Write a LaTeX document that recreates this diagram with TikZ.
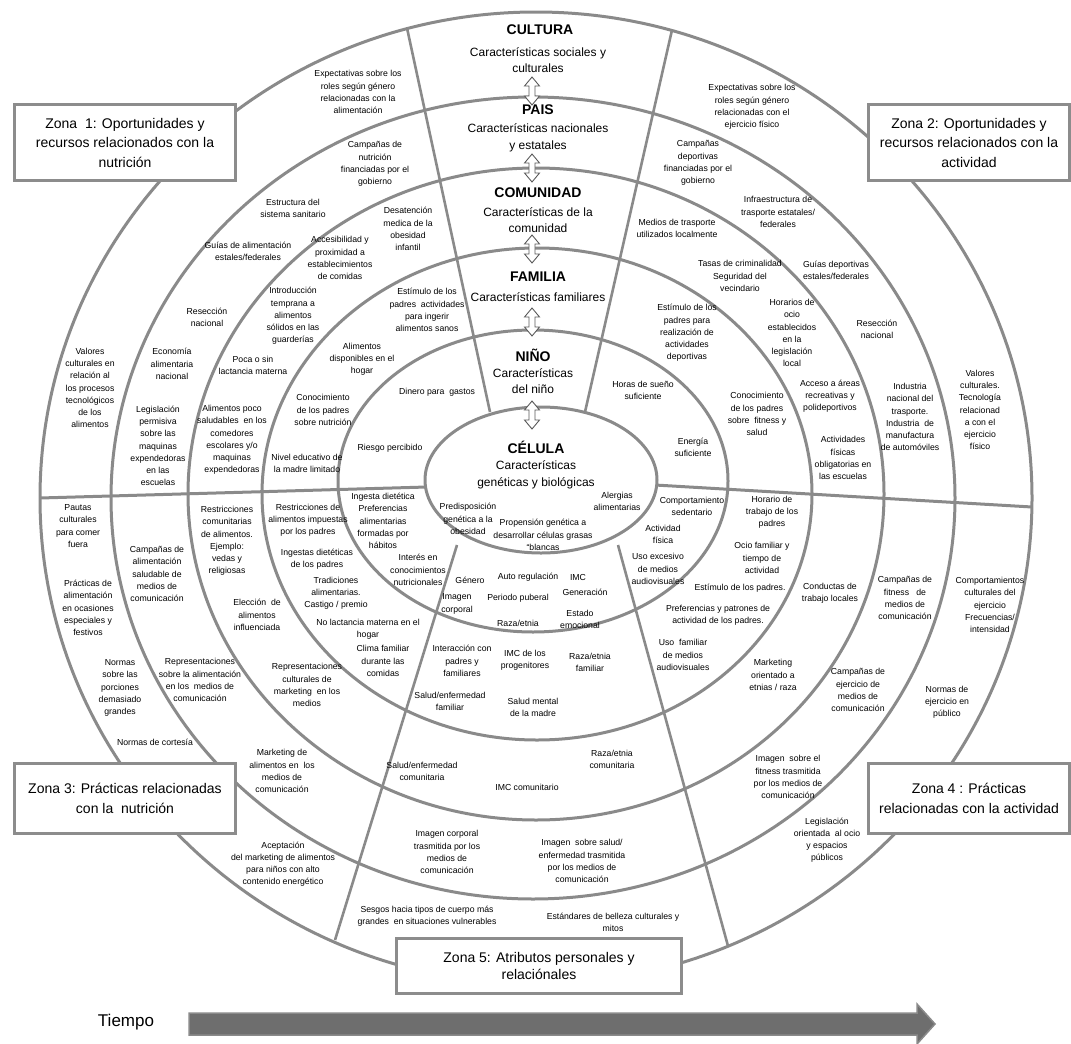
\documentclass[tikz,border=0pt]{standalone}
\usepackage{fontspec}
\setmainfont{Liberation Sans}
\usetikzlibrary{calc}
\definecolor{ringgray}{HTML}{8A8A8A}
\definecolor{boxgray}{HTML}{8C8C8C}
\definecolor{bargray}{HTML}{6E6E6E}
\definecolor{arrowgray}{HTML}{5A5A5A}
\newcommand{\itemfnt}{\fontsize{8.7}{12.2}\selectfont}
\newcommand{\subfnt}{\fontsize{12}{16.5}\selectfont}
\newcommand{\zonefnt}{\fontsize{14}{19.5}\selectfont}
\newcommand{\headfnt}{\bfseries\fontsize{14}{16}\selectfont}

\begin{document}
\begin{tikzpicture}[x=1pt, y=-1pt,
        ringline/.style={draw=ringgray, line width=3pt},
        spokeline/.style={draw=ringgray, line width=2.6pt},
        item/.style={font=\itemfnt, align=center, inner sep=0pt},
        head/.style={font=\headfnt, inner sep=0pt},
        sub/.style={font=\subfnt, align=center, inner sep=0pt},
        zonebox/.style={draw=boxgray, line width=3pt, fill=white, font=\zonefnt, align=center, inner sep=0pt},
        dblarr/.pic={\draw[draw=arrowgray, fill=white, line width=0.9pt] (0,-14) -- (7.5,-5) -- (3,-5) -- (3,5) -- (7.5,5) -- (0,14) -- (-7.5,5) -- (-3,5) -- (-3,-5) -- (-7.5,-5) -- cycle;}
    ]
    \useasboundingbox (0,0) rectangle (1071,1044);

    % rings
    \draw[ringline] (536,498) ellipse [x radius=496pt, y radius=486pt];
    \draw[ringline] (533,498) ellipse [x radius=422pt, y radius=401pt];
    \draw[ringline] (536,494) ellipse [x radius=348pt, y radius=326pt];
    \draw[ringline] (537,494) ellipse [x radius=275pt, y radius=246pt];
    \draw[ringline] (533,481) ellipse [x radius=195pt, y radius=151pt];

    % zone dividers
    \draw[spokeline] (490,412) -- (407,28);
    \draw[spokeline] (585,412) -- (672,30);
    \draw[spokeline] (457,545) -- (335,940);
    \draw[spokeline] (618,545) -- (728,946);
    \draw[ringline] (427,487) -- (40,498);
    \draw[ringline] (655,485) -- (1032,507);

    % cell
    \draw[ringline, fill=white] (541,480) ellipse [x radius=116pt, y radius=73pt];

    % levels
    \node[head] (cultura) at (540,30) {CULTURA};
    \node[sub] (culturas) at (538,60) {Características sociales y\\culturales};
    \node[head] (pais) at (538,110) {PAIS};
    \node[sub] (paiss) at (538,138) {Características nacionales\\y estatales};
    \node[head] (comunidad) at (538,193) {COMUNIDAD};
    \node[sub] (comunidads) at (538,220) {Características de la\\comunidad};
    \node[head] (familia) at (538,277) {FAMILIA};
    \node[sub] (familias) at (538,297) {Características familiares};
    \node[head] (nino) at (533,355) {NIÑO};
    \node[sub] (ninos) at (533,381) {Características\\del niño};
    \node[head] (celula) at (536,447) {CÉLULA};
    \node[sub] (celulas) at (536,475) {Características\\genéticas y biológicas};

    \pic at (532,91) {dblarr};
    \pic at (532,168) {dblarr};
    \pic at (532,249) {dblarr};
    \pic at (532,322) {dblarr};
    \pic at (532,415) {dblarr};

    % cultura ring
    \node[item] (c1) at (358,92) {Expectativas sobre los\\roles según género\\relacionadas con la\\alimentación};
    \node[item] (c2) at (90,388) {Valores\\culturales en\\relación al\\los procesos\\tecnológicos\\de los\\alimentos};
    \node[item] (c3) at (752,107) {Expectativas sobre los\\roles según género\\relacionadas con el\\ejercicio físico};
    \node[item] (c4) at (980,410) {Valores\\culturales.\\Tecnología\\relacionad\\a con el\\ejercicio\\físico};
    \node[item] (c5) at (78,526) {Pautas\\culturales\\para comer\\fuera};
    \node[item] (c6) at (88,608) {Prácticas de\\alimentación\\en ocasiones\\especiales y\\festivos};
    \node[item] (c7) at (120,688) {Normas\\sobre las\\porciones\\demasiado\\grandes};
    \node[item] (c8) at (155,742) {Normas de cortesía};
    \node[item] (c9) at (283,864) {Aceptación\\del marketing de alimentos\\para niños con alto\\contenido energético};
    \node[item] (c10) at (427,916) {Sesgos hacia tipos de cuerpo más\\grandes\ \ en situaciones vulnerables};
    \node[item] (c11) at (613,922) {Estándares de belleza culturales y\\mitos};
    \node[item] (c12) at (990,605) {Comportamientos\\culturales del\\ejercicio\\Frecuencias/\\intensidad};
    \node[item] (c13) at (947,702) {Normas de\\ejercicio en\\público};

    % pais ring
    \node[item] (p1) at (375,164) {Campañas de\\nutrición\\financiadas por el\\gobierno};
    \node[item] (p2) at (293,208) {Estructura del\\sistema sanitario};
    \node[item] (p3) at (248,251) {Guías de alimentación\\estales/federales};
    \node[item] (p4) at (207,317) {Resección\\nacional};
    \node[item] (p5) at (172,364) {Economía\\alimentaria\\nacional};
    \node[item] (p6) at (158,446) {Legislación\\permisiva\\sobre las\\maquinas\\expendedoras\\en las\\escuelas};
    \node[item] (p7) at (698,163) {Campañas\\deportivas\\financiadas por el\\gobierno};
    \node[item] (p8) at (778,212) {Infraestructura de\\trasporte estatales/\\federales};
    \node[item] (p9) at (836,270) {Guías deportivas\\estales/federales};
    \node[item] (p10) at (877,329) {Resección\\nacional};
    \node[item] (p11) at (910,417) {Industria\\nacional del\\trasporte.\\Industria\ \ de\\manufactura\\de automóviles};
    \node[item] (p12) at (157,574) {Campañas de\\alimentación\\saludable de\\medios de\\comunicación};
    \node[item] (p13) at (200,680) {Representaciones\\sobre la alimentación\\en los\ \ medios de\\comunicación};
    \node[item] (p14) at (282,771) {Marketing de\\alimentos en\ \ los\\medios de\\comunicación};
    \node[item] (p15) at (905,598) {Campañas de\\fitness\ \ \ de\\medios de\\comunicación};
    \node[item] (p16) at (858,690) {Campañas de\\ejercicio de\\medios de\\comunicación};
    \node[item] (p17) at (788,777) {Imagen\ \ sobre el\\fitness trasmitida\\por los medios de\\comunicación};
    \node[item] (p18) at (827,840) {Legislación\\orientada\ \ al ocio\\y espacios\\públicos};
    \node[item] (p19) at (447,852) {Imagen corporal\\trasmitida por los\\medios de\\comunicación};
    \node[item] (p20) at (582,861) {Imagen\ \ sobre salud/\\enfermedad trasmitida\\por los medios de\\comunicación};

    % comunidad ring
    \node[item] (m1) at (408,229) {Desatención\\medica de la\\obesidad\\infantil};
    \node[item] (m2) at (340,258) {Accesibilidad y\\proximidad a\\establecimientos\\de comidas};
    \node[item] (m3) at (293,316) {Introducción\\temprana a\\alimentos\\sólidos en las\\guarderías};
    \node[item] (m4) at (253,365) {Poca o sin\\lactancia materna};
    \node[item] (m5) at (232,440) {Alimentos poco\\saludables\ \ en los\\comedores\\escolares y/o\\maquinas\\expendedoras};
    \node[item] (m6) at (677,228) {Medios de trasporte\\utilizados localmente};
    \node[item] (m7) at (740,276) {Tasas de criminalidad\\Seguridad del\\vecindario};
    \node[item] (m8) at (792,333) {Horarios de\\ocio\\establecidos\\en la\\legislación\\local};
    \node[item] (m9) at (830,396) {Acceso a áreas\\recreativas y\\polideportivos};
    \node[item] (m10) at (843,458) {Actividades\\físicas\\obligatorias en\\las escuelas};
    \node[item] (m11) at (227,541) {Restricciones\\comunitarias\\de alimentos.\\Ejemplo:\\vedas y\\religiosas};
    \node[item] (m12) at (257,615) {Elección\ \ de\\alimentos\\influenciada};
    \node[item] (m13) at (307,685) {Representaciones\\culturales de\\marketing\ \ en los\\medios};
    \node[item] (m14) at (830,593) {Conductas de\\trabajo locales};
    \node[item] (m15) at (773,675) {Marketing\\orientado a\\etnias / raza};
    \node[item] (m16) at (422,771) {Salud/enfermedad\\comunitaria};
    \node[item] (m17) at (527,787) {IMC comunitario};
    \node[item] (m18) at (612,759) {Raza/etnia\\comunitaria};

    % familia ring
    \node[item] (f1) at (427,310) {Estímulo de los\\padres\ \ actividades\\para ingerir\\alimentos sanos};
    \node[item] (f2) at (362,359) {Alimentos\\disponibles en el\\hogar};
    \node[item] (f3) at (323,410) {Conocimiento\\de los padres\\sobre nutrición};
    \node[item] (f4) at (307,463) {Nivel educativo de\\la madre limitado};
    \node[item] (f5) at (687,333) {Estímulo de los\\padres para\\realización de\\actividades\\deportivas};
    \node[item] (f6) at (757,414) {Conocimiento\\de los padres\\sobre\ \ fitness y\\salud};
    \node[item] (f7) at (308,520) {Restricciones de\\alimentos impuestas\\por los padres};
    \node[item] (f8) at (317,559) {Ingestas dietéticas\\de los padres};
    \node[item] (f9) at (336,593) {Tradiciones\\alimentarias.\\Castigo / premio};
    \node[item] (f10) at (368,629) {No lactancia materna en el\\hogar};
    \node[item] (f11) at (383,661) {Clima familiar\\durante las\\comidas};
    \node[item] (f12) at (462,661) {Interacción con\\padres y\\familiares};
    \node[item] (f13) at (525,660) {IMC de los\\progenitores};
    \node[item] (f14) at (590,662) {Raza/etnia\\familiar};
    \node[item] (f15) at (450,701) {Salud/enfermedad\\familiar};
    \node[item] (f16) at (533,707) {Salud mental\\de la madre};
    \node[item] (f17) at (772,512) {Horario de\\trabajo de los\\padres};
    \node[item] (f18) at (762,558) {Ocio familiar y\\tiempo de\\actividad};
    \node[item] (f19) at (740,588) {Estímulo de los padres.};
    \node[item] (f20) at (718,615) {Preferencias y patrones de\\actividad de los padres.};
    \node[item] (f21) at (683,655) {Uso\ \ familiar\\de medios\\audiovisuales};

    % nino ring
    \node[item] (n1) at (437,392) {Dinero para\ \ gastos};
    \node[item] (n2) at (390,448) {Riesgo percibido};
    \node[item] (n3) at (643,390) {Horas de sueño\\suficiente};
    \node[item] (n4) at (693,447) {Energía\\suficiente};
    \node[item] (n5) at (383,521) {Ingesta dietética\\Preferencias\\alimentarias\\formadas por\\hábitos};
    \node[item] (n6) at (418,570) {Interés en\\conocimientos\\nutricionales};
    \node[item] (n7) at (470,580) {Género};
    \node[item] (n8) at (457,604) {Imagen\\corporal};
    \node[item] (n9) at (528,577) {Auto regulación};
    \node[item] (n10) at (518,598) {Periodo puberal};
    \node[item] (n11) at (578,577) {IMC};
    \node[item] (n12) at (585,592) {Generación};
    \node[item] (n13) at (580,619) {Estado\\emocional};
    \node[item] (n14) at (518,623) {Raza/etnia};
    \node[item] (n15) at (692,506) {Comportamiento\\sedentario};
    \node[item] (n16) at (663,534) {Actividad\\física};
    \node[item] (n17) at (658,569) {Uso excesivo\\de medios\\audiovisuales};

    % cell
    \node[item] (e1) at (617,501) {Alergias\\alimentarias};
    \node[item] (e2) at (468,519) {Predisposición\\genética a la\\obesidad};
    \node[item] (e3) at (543,535) {Propensión genética a\\desarrollar células grasas\\“blancas};

    % zones
    \node[zonebox, minimum width=221pt, minimum height=76pt] (zone1) at (125,142.5) {Zona\ \ 1: Oportunidades y\\recursos relacionados con la\\nutrición};
    \node[zonebox, minimum width=201pt, minimum height=76pt] (zone2) at (969,142.5) {Zona 2: Oportunidades y\\recursos relacionados con la\\actividad};
    \node[zonebox, minimum width=221pt, minimum height=70pt] (zone3) at (125,798.5) {Zona 3: Prácticas relacionadas\\con la\ \ nutrición};
    \node[zonebox, minimum width=201pt, minimum height=70pt] (zone4) at (969,798.5) {Zona 4 : Prácticas\\relacionadas con la actividad};
    \node[zonebox, minimum width=285pt, minimum height=55pt, font=\fontsize{14}{17.5}\selectfont] (zone5) at (539,966) {Zona 5: Atributos personales y\\relaciónales};

    % time
    \node[font=\fontsize{17}{20}\selectfont, inner sep=0pt] (tiempo) at (126,1022) {Tiempo};
    \draw[fill=bargray, draw=ringgray, line width=1.5pt] (189,1013) -- (917,1013) -- (917,1004) -- (935,1024) -- (917,1044) -- (917,1035) -- (189,1035) -- cycle;
\end{tikzpicture}
\end{document}
